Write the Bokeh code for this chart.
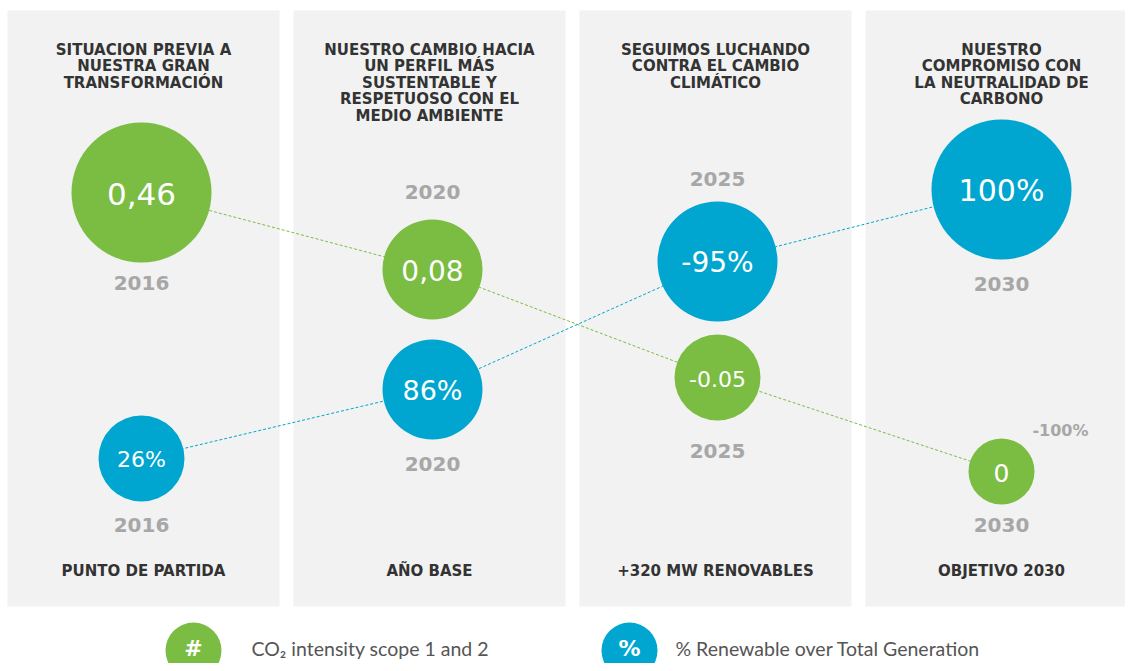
from bokeh.plotting import figure
from bokeh.models import Range1d
from bokeh.core.properties import value
from bokeh.embed import file_html
from bokeh.resources import INLINE

# ---- data ----
panel_titles = [
    ["SITUACION PREVIA A", "NUESTRA GRAN", "TRANSFORMACIÓN"],
    ["NUESTRO CAMBIO HACIA", "UN PERFIL MÁS", "SUSTENTABLE Y", "RESPETUOSO CON EL", "MEDIO AMBIENTE"],
    ["SEGUIMOS LUCHANDO", "CONTRA EL CAMBIO", "CLIMÁTICO"],
    ["NUESTRO", "COMPROMISO CON", "LA NEUTRALIDAD DE", "CARBONO"],
]
panel_footers = ["PUNTO DE PARTIDA", "AÑO BASE", "+320 MW RENOVABLES", "OBJETIVO 2030"]
years = ["2016", "2020", "2025", "2030"]
co2_labels = ["0,46", "0,08", "-0.05", "0"]
ren_labels = ["26%", "86%", "-95%", "100%"]
co2_note = "-100%"
legend_labels = ["CO₂ intensity scope 1 and 2", "% Renewable over Total Generation"]
legend_symbols = ["#", "%"]

# ---- layout (positions / sizes / styles) ----
GREEN = "#7ABD42"
BLUE = "#00A6CF"
PANEL = "#F2F2F2"
GREY = "#A7A7A7"
DARK = "#333333"

W, H = 1125, 663
p = figure(width=W, height=H, output_backend="svg", toolbar_location=None,
           x_range=Range1d(0, W), y_range=Range1d(H, 0),
           min_border=0, outline_line_color=None, background_fill_color="white")
p.axis.visible = False
p.grid.visible = False

panel_left = [7, 293, 579, 865]
panel_w = 272
col_x = [141, 432, 717, 1001]
p.quad(left=panel_left, right=[l + panel_w for l in panel_left], top=[10] * 4, bottom=[606] * 4,
       fill_color=PANEL, line_color=None)

co2_y = [192, 269, 377, 471]
co2_r = [70, 50, 43, 33]
co2_fs = ["31px", "28px", "22px", "25px"]
ren_y = [458, 389, 261, 189]
ren_r = [43, 50, 60, 70]
ren_fs = ["22px", "27px", "28px", "30px"]

p.line(col_x, co2_y, line_color=GREEN, line_width=1, line_dash="3 2")
p.line(col_x, ren_y, line_color=BLUE, line_width=1, line_dash="3 2")
p.circle(col_x, co2_y, radius=co2_r, fill_color=GREEN, line_color=None)
p.circle(col_x, ren_y, radius=ren_r, fill_color=BLUE, line_color=None)

NUMF = value("DejaVu Sans")
BOLDF = value("DejaVu Sans")
for i in range(4):
    p.text([col_x[i]], [co2_y[i] + 1], text=[co2_labels[i]], text_align="center", text_baseline="middle",
           text_color="white", text_font=NUMF, text_font_size=co2_fs[i], text_font_style="normal")
    p.text([col_x[i]], [ren_y[i] + 1], text=[ren_labels[i]], text_align="center", text_baseline="middle",
           text_color="white", text_font=NUMF, text_font_size=ren_fs[i], text_font_style="normal")

# year labels
co2_year_y = [281, 190, 449, 523]
ren_year_y = [523, 462, 177, 282]
for i in range(4):
    for yy in (co2_year_y[i], ren_year_y[i]):
        p.text([col_x[i]], [yy + 1], text=[years[i]], text_align="center", text_baseline="middle",
               text_color=GREY, text_font=BOLDF, text_font_size="20px", text_font_style="bold")

p.text([1060], [430], text=[co2_note], text_align="center", text_baseline="middle",
       text_color=GREY, text_font=BOLDF, text_font_size="16px", text_font_style="bold")

# titles and footers
for i, lines in enumerate(panel_titles):
    cx = panel_left[i] + panel_w / 2
    for j, ln in enumerate(lines):
        p.text([cx], [49 + j * 16.6], text=[ln], text_align="center", text_baseline="middle",
               text_color=DARK, text_font=BOLDF, text_font_size="15px", text_font_style="bold")
    p.text([cx], [570], text=[panel_footers[i]], text_align="center", text_baseline="middle",
           text_color=DARK, text_font=BOLDF, text_font_size="15px", text_font_style="bold")

# legend
leg_x = [193, 629]
leg_col = [GREEN, BLUE]
leg_tx = [251, 675]
leg_y = 648
p.circle(leg_x, [650, 650], radius=[28, 28], fill_color=leg_col, line_color=None)
for i in range(2):
    p.text([leg_x[i]], [leg_y], text=[legend_symbols[i]], text_align="center", text_baseline="middle",
           text_color="white", text_font=BOLDF, text_font_size="22px", text_font_style="bold")
    p.text([leg_tx[i]], [leg_y], text=[legend_labels[i]], text_align="left", text_baseline="middle",
           text_color="#555555", text_font=value("Lato"), text_font_size="19.5px", text_font_style="normal")

open("out.html", "w").write(file_html(p, INLINE))
